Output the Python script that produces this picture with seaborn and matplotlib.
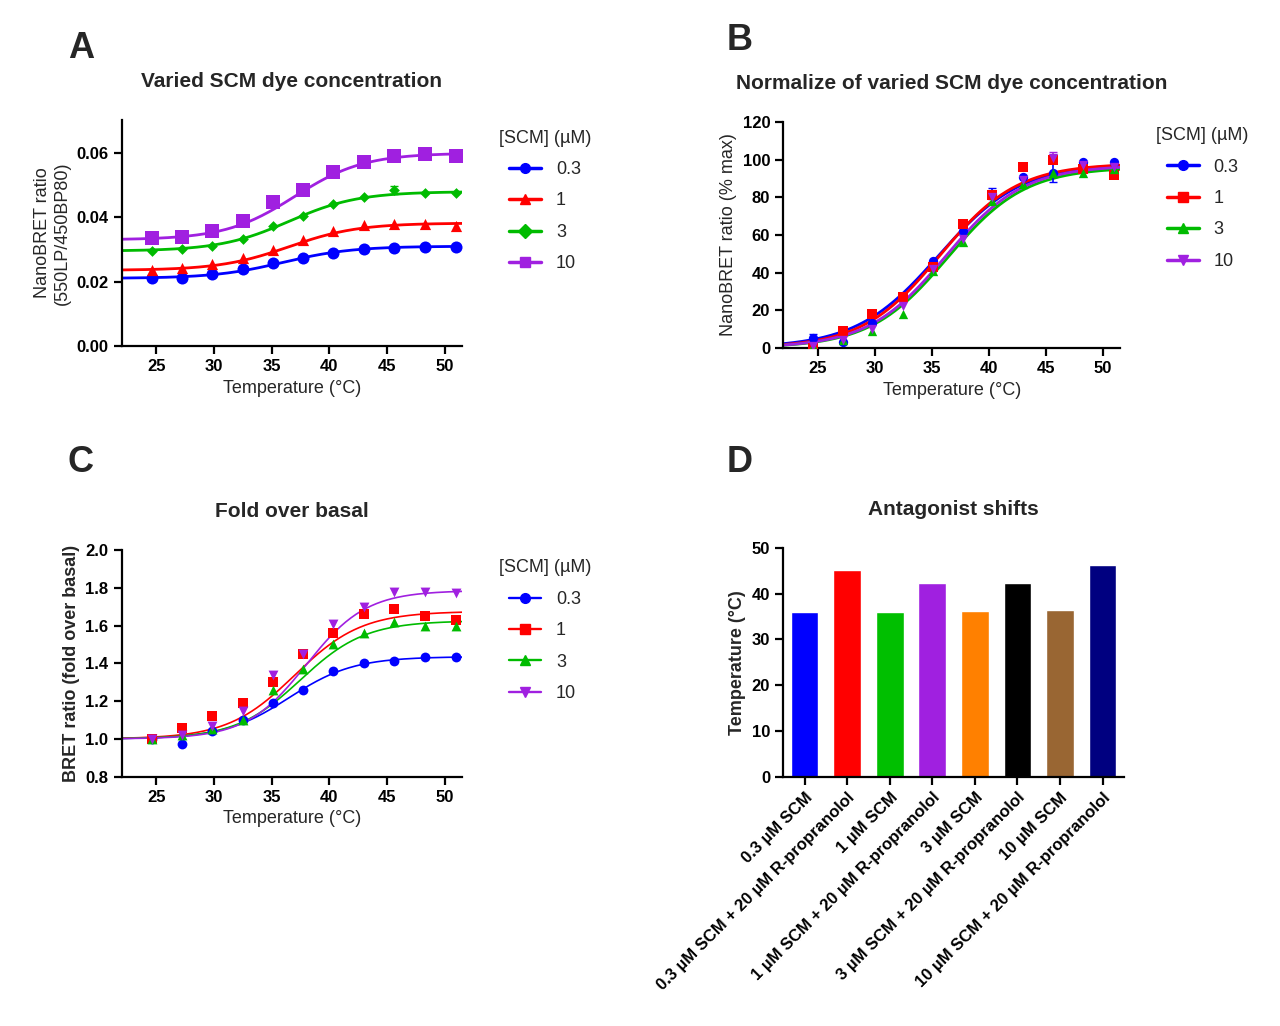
import numpy as np
import pandas as pd
import matplotlib
matplotlib.use("Agg")
import matplotlib.pyplot as plt
from matplotlib.lines import Line2D
import seaborn as sns

# temperatures (°C) of the melt points
temps = [24.6, 27.2, 29.8, 32.5, 35.1, 37.7, 40.3, 43.0, 45.6, 48.3, 51.0]
conc_labels = ["0.3", "1", "3", "10"]

# panel A: raw NanoBRET ratio
ratio_a = {
    "0.3": [0.0212, 0.0212, 0.0225, 0.0240, 0.0258, 0.0273, 0.0290, 0.0300, 0.0305, 0.0308, 0.0308],
    "1":   [0.0235, 0.0242, 0.0255, 0.0272, 0.0298, 0.0330, 0.0357, 0.0375, 0.0380, 0.0380, 0.0373],
    "3":   [0.0295, 0.0300, 0.0312, 0.0332, 0.0372, 0.0405, 0.0440, 0.0462, 0.0485, 0.0475, 0.0475],
    "10":  [0.0335, 0.0340, 0.0357, 0.0390, 0.0447, 0.0485, 0.0540, 0.0572, 0.0592, 0.0597, 0.0592],
}
# fitted Boltzmann parameters: bottom, top, Tm, slope
fit_a = {"0.3": (0.0210, 0.0310, 36.0, 3.0), "1": (0.0235, 0.0382, 36.5, 3.0),
         "3": (0.0295, 0.0480, 36.5, 3.0), "10": (0.0330, 0.0600, 37.0, 3.0)}

# panel B: normalised (% max)
norm_b = {
    "0.3": [5, 3, 13, 27, 46, 62, 82, 91, 93, 99, 99],
    "1":   [0, 9, 18, 27, 43, 66, 81, 96, 100, 95, 92],
    "3":   [1, 4, 9, 18, 41, 56, 78, 87, 93, 93, 95],
    "10":  [1, 4, 10, 22, 42, 58, 80, 89, 101, 97, 96],
}
fit_b = {"0.3": (0, 98, 35.6, 3.6), "1": (0, 98, 35.7, 3.4),
         "3": (0, 96, 36.4, 3.4), "10": (0, 97, 36.2, 3.4)}

# panel C: fold over basal
fold_c = {
    "0.3": [1.00, 0.975, 1.04, 1.10, 1.19, 1.26, 1.36, 1.40, 1.41, 1.435, 1.435],
    "1":   [1.00, 1.06, 1.12, 1.19, 1.30, 1.45, 1.56, 1.66, 1.69, 1.65, 1.63],
    "3":   [1.00, 1.02, 1.05, 1.10, 1.26, 1.37, 1.50, 1.56, 1.62, 1.60, 1.60],
    "10":  [1.00, 1.02, 1.07, 1.15, 1.34, 1.45, 1.61, 1.70, 1.78, 1.78, 1.77],
}
fit_c = {"0.3": (1.0, 1.435, 36.5, 2.8), "1": (1.0, 1.675, 37.0, 2.9),
         "3": (1.0, 1.625, 37.5, 2.8), "10": (1.0, 1.785, 38.0, 2.6)}

# panel D: Tm values
d_labels = ["0.3 µM SCM", "0.3 µM SCM + 20 µM R-propranolol", "1 µM SCM",
            "1 µM SCM + 20 µM R-propranolol", "3 µM SCM", "3 µM SCM + 20 µM R-propranolol",
            "10 µM SCM", "10 µM SCM + 20 µM R-propranolol"]
d_values = [35.9, 45.1, 35.9, 42.4, 36.3, 42.4, 36.4, 46.3]
d_colors = ["#0000ff", "#ff0000", "#00bf00", "#a020e0", "#ff8000", "#000000", "#996633", "#000080"]

colors = {"0.3": "#0000ff", "1": "#ff0000", "3": "#00bb00", "10": "#a020e0"}

sns.set_theme(style="ticks")
plt.rcParams["font.family"] = ["Liberation Sans", "DejaVu Sans"]


def boltzmann(t, p):
    bottom, top, tm, s = p
    return bottom + (top - bottom) / (1 + np.exp((tm - t) / s))


def style_axes(ax):
    sns.despine(ax=ax)
    for sp in ["left", "bottom"]:
        ax.spines[sp].set_linewidth(1.6)
        ax.spines[sp].set_color("black")
    ax.tick_params(width=1.6, length=6, labelsize=12, colors="black")


def melt_panel(ax, data, fits, markers, msize, lw, title, ylabel, ylim, yticks, yfmt, legend_xy):
    t_fine = np.linspace(22, 51.5, 200)
    for c in conc_labels:
        df = pd.DataFrame({"T": temps, "y": data[c]})
        curve = pd.DataFrame({"T": t_fine, "y": boltzmann(t_fine, fits[c])})
        sns.lineplot(data=curve, x="T", y="y", ax=ax, color=colors[c], lw=lw)
        size = msize[c] if isinstance(msize, dict) else msize
        sns.scatterplot(data=df, x="T", y="y", ax=ax, color=colors[c], marker=markers[c],
                        s=size, edgecolor=colors[c], linewidth=0, zorder=3)
    ax.set_xlim(22, 51.5)
    ax.set_xticks([25, 30, 35, 40, 45, 50])
    ax.set_ylim(*ylim)
    ax.set_yticks(yticks)
    ax.set_yticklabels([yfmt.format(v) for v in yticks])
    style_axes(ax)
    for lab in ax.get_xticklabels() + ax.get_yticklabels():
        lab.set_fontweight("bold")
    ax.set_xlabel("Temperature (°C)", fontsize=13)
    ax.set_ylabel(ylabel, fontsize=13)
    ax.set_title(title, fontsize=15, fontweight="bold", pad=24)
    handles = [Line2D([], [], color=colors[c], marker=markers[c], lw=lw + 0.5,
                      markersize=7) for c in conc_labels]
    ax.legend(handles, conc_labels, title="[SCM] (µM)", frameon=False, fontsize=13,
              title_fontsize=13, loc="upper left", bbox_to_anchor=legend_xy,
              handlelength=1.8, labelspacing=0.8)


fig = plt.figure(figsize=(12.8, 10.26), dpi=100)
ax_a = fig.add_axes([0.095, 0.663, 0.266, 0.220])
ax_b = fig.add_axes([0.612, 0.661, 0.263, 0.220])
ax_c = fig.add_axes([0.095, 0.243, 0.266, 0.221])
ax_d = fig.add_axes([0.612, 0.243, 0.266, 0.223])

mk_a = {"0.3": "o", "1": "^", "3": "D", "10": "s"}
sz_a = {"0.3": 75, "1": 65, "3": 30, "10": 95}
melt_panel(ax_a, ratio_a, fit_a, mk_a, sz_a, 2.0, "Varied SCM dye concentration",
           "NanoBRET ratio\n(550LP/450BP80)", (0, 0.0703), [0, 0.02, 0.04, 0.06], "{:.2f}",
           (1.06, 1.03))
ax_a.errorbar([45.6], [0.0485], yerr=[0.0012], fmt="none", ecolor=colors["3"], capsize=3, lw=1.2)

mk_b = {"0.3": "o", "1": "s", "3": "^", "10": "v"}
melt_panel(ax_b, norm_b, fit_b, mk_b, 45, 2.0, "Normalize of varied SCM dye concentration",
           "NanoBRET ratio (% max)", (0, 120), [0, 20, 40, 60, 80, 100, 120], "{:.0f}",
           (1.06, 1.05))
ax_b.errorbar([24.6, 45.6, 40.3], [5, 93, 82], yerr=[2.5, 5, 3], fmt="none",
              ecolor=colors["0.3"], capsize=3, lw=1.2)
ax_b.errorbar([45.6], [101], yerr=[3], fmt="none", ecolor=colors["10"], capsize=3, lw=1.2)

melt_panel(ax_c, fold_c, fit_c, mk_b, 50, 1.2, "Fold over basal",
           "BRET ratio (fold over basal)", (0.8, 2.0),
           [0.8, 1.0, 1.2, 1.4, 1.6, 1.8, 2.0], "{:.1f}", (1.06, 1.03))
ax_c.yaxis.label.set_fontweight("bold")

# panel D bars
df_d = pd.DataFrame({"label": d_labels, "Tm": d_values})
sns.barplot(data=df_d, x="label", y="Tm", hue="label", palette=d_colors, legend=False,
            ax=ax_d, width=0.65, saturation=1)
ax_d.set_ylim(0, 50)
ax_d.set_yticks(range(0, 51, 10))
ax_d.set_xlabel("")
ax_d.set_ylabel("Temperature (°C)", fontsize=13, fontweight="bold")
ax_d.set_title("Antagonist shifts", fontsize=15, fontweight="bold", pad=24)
style_axes(ax_d)
ax_d.set_xticks(range(len(d_labels)))
ax_d.set_xticklabels(d_labels, rotation=45, ha="right", rotation_mode="anchor",
                     fontsize=12, fontweight="bold")
for lab in ax_d.get_yticklabels():
    lab.set_fontweight("bold")

for letter, x, y in [("A", 0.053, 0.953), ("B", 0.568, 0.961), ("C", 0.053, 0.549), ("D", 0.568, 0.549)]:
    fig.text(x, y, letter, fontsize=26, fontweight="bold", va="center")

fig.savefig("out.png", dpi=100)
